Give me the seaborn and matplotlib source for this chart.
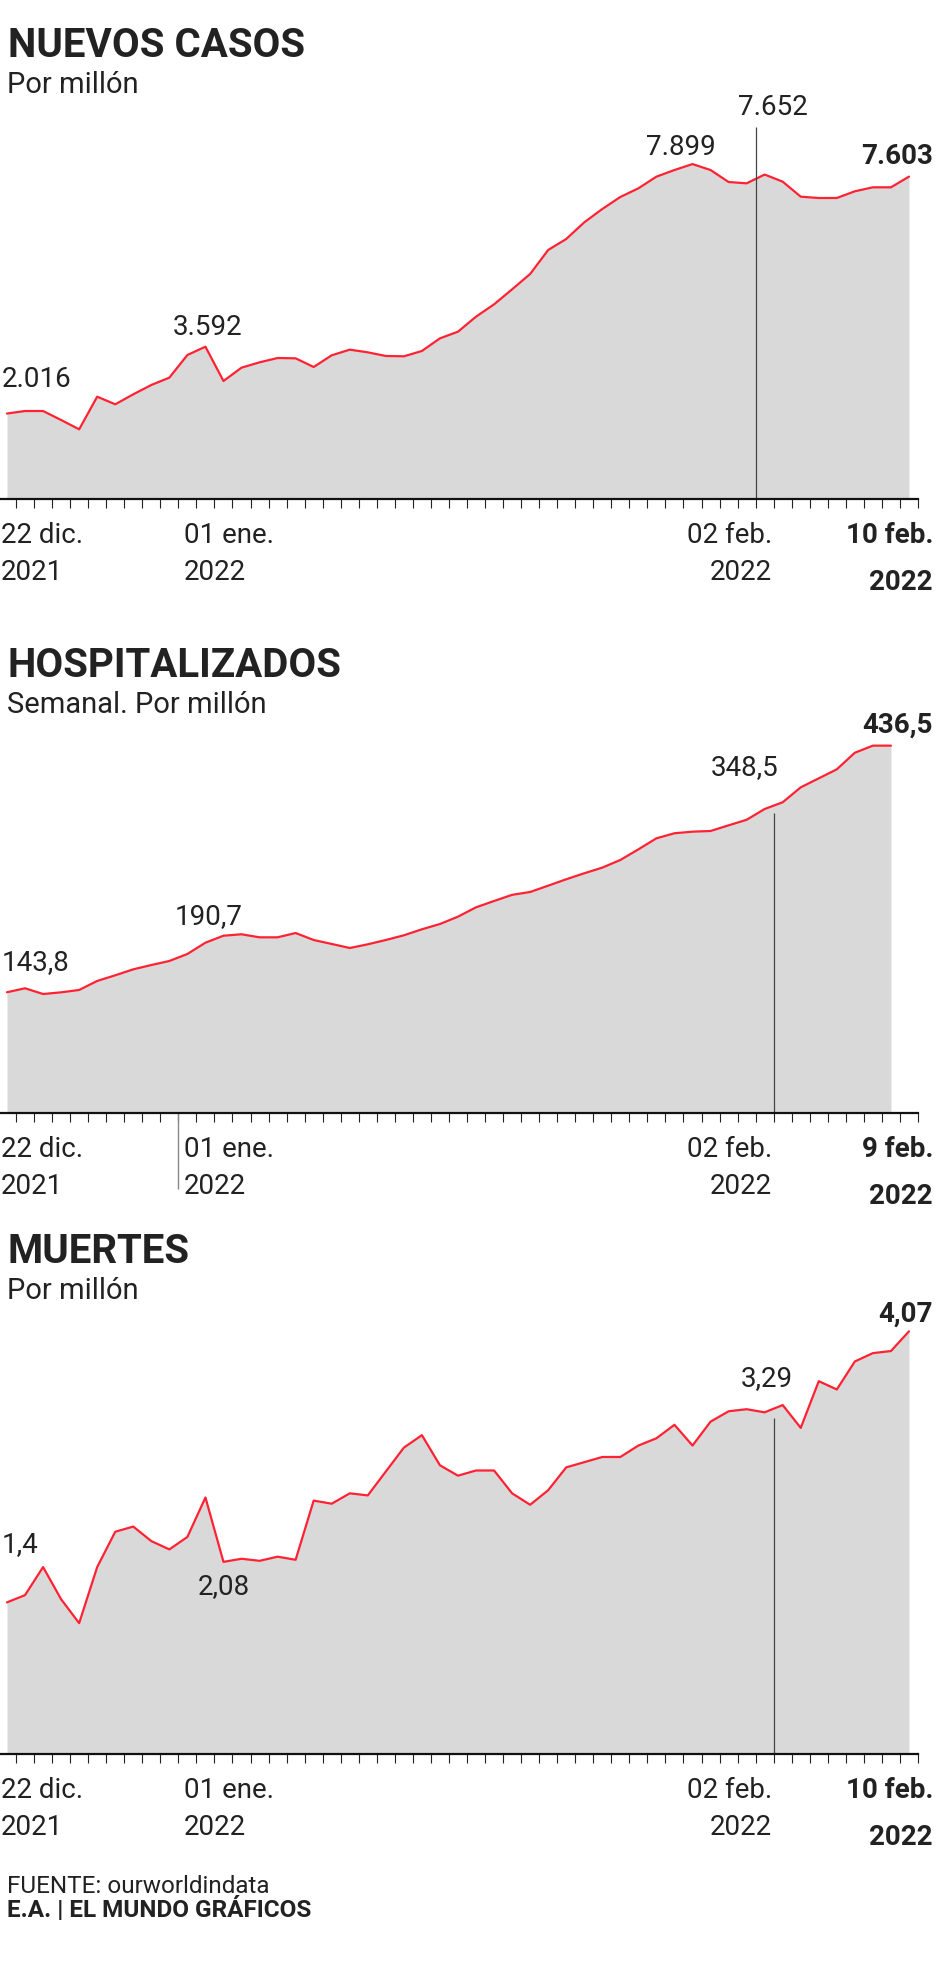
import numpy as np
import pandas as pd
import matplotlib
matplotlib.use("Agg")
import matplotlib.pyplot as plt
import seaborn as sns

# ---------------- data ----------------
casos = [2016, 2075, 2075, 1863, 1643, 2413, 2233, 2469, 2689, 2862,
         3396, 3592, 2783, 3097, 3223, 3325, 3318, 3113, 3389, 3522,
         3459, 3373, 3365, 3491, 3789, 3946, 4300, 4591, 4945, 5307,
         5873, 6132, 6525, 6840, 7123, 7327, 7602, 7759, 7899, 7759,
         7476, 7445, 7652, 7484, 7130, 7099, 7099, 7257, 7351, 7351,
         7603]

hosp = [143.8, 148.5, 141.7, 143.7, 146.5, 157.2, 163.9, 171.0, 176.1, 180.9,
        189.2, 202.6, 210.9, 212.6, 209.0, 209.0, 214.1, 205.8, 201.1, 196.3,
        200.7, 205.8, 211.4, 218.5, 224.8, 233.5, 244.6, 252.1, 259.4, 262.8,
        270.3, 277.9, 285.0, 291.7, 300.8, 313.4, 326.5, 332.5, 334.4, 335.2,
        341.9, 348.5, 361.3, 369.3, 387.0, 397.7, 408.4, 428.1, 436.5, 436.5]

muertes = [1.46, 1.53, 1.80, 1.49, 1.26, 1.80, 2.14, 2.19, 2.05, 1.97,
           2.09, 2.47, 1.85, 1.88, 1.86, 1.90, 1.87, 2.44, 2.41, 2.51,
           2.49, 2.72, 2.95, 3.07, 2.78, 2.68, 2.73, 2.73, 2.51, 2.40,
           2.54, 2.76, 2.81, 2.86, 2.86, 2.97, 3.04, 3.17, 2.97, 3.20,
           3.30, 3.32, 3.29, 3.36, 3.14, 3.59, 3.51, 3.78, 3.86, 3.88,
           4.07]

titles = ["NUEVOS CASOS", "HOSPITALIZADOS", "MUERTES"]
subtitles = ["Por millón", "Semanal. Por millón", "Por millón"]
tick_first = ["22 dic.", "2021"]
tick_second = ["01 ene.", "2022"]
tick_third = ["02 feb.", "2022"]
tick_last = [["10 feb.", "2022"], ["9 feb.", "2022"], ["10 feb.", "2022"]]

# annotations: (index, label, dx_px, dy_px, ha, bold)
ann_casos = [(0, "2.016", -5, 27, "left", False),
             (11, "3.592", 2, 12, "center", False),
             (38, "7.899", -12, 9, "center", False),
             (42, "7.652", 8, 60, "center", False),
             (50, "7.603", 24, 13, "right", True)]
ann_hosp = [(0, "143,8", -5, 22, "left", False),
            (11, "190,7", 3, 19, "center", False),
            (41, "348,5", -2, 45, "center", False),
            (49, "436,5", 42, 13, "right", True)]
ann_muertes = [(0, "1,4", -5, 50, "left", False),
               (12, "2,08", 0, -32, "center", False),
               (42, "3,29", 2, 26, "center", False),
               (50, "4,07", 24, 10, "right", True)]

footer1 = "FUENTE: ourworldindata"
footer2 = "E.A. | EL MUNDO GRÁFICOS"

# ---------------- style ----------------
sns.set_theme(style="white")
plt.rcParams["font.family"] = ["Roboto", "DejaVu Sans"]

W, H = 940, 1966
fig = plt.figure(figsize=(W / 100, H / 100), dpi=100)
TXT = "#222222"
RED = "#ff2233"
FILL = "#d9d9d9"


def fx(x):
    return x / W


def fy(y):
    return 1 - y / H


def make_panel(values, top, bottom, ppu, vline_x, vline_top, annots, title,
               subtitle, title_base, last_labels, extra_vline=None):
    ax = fig.add_axes([0, fy(bottom), 918 / W, (bottom - top) / H])
    n = len(values)
    df = pd.DataFrame({"d": np.arange(n), "v": values})
    ax.fill_between(df["d"], 0, df["v"], color=FILL, lw=0, zorder=1)
    sns.lineplot(data=df, x="d", y="v", ax=ax, color=RED, lw=1.6,
                 zorder=3, clip_on=False)
    ax.set_xlim(-0.388, 50.5)
    ax.set_ylim(0, (bottom - top) / ppu)
    for s in ["top", "left", "right"]:
        ax.spines[s].set_visible(False)
    ax.spines["bottom"].set_color("#111111")
    ax.spines["bottom"].set_linewidth(1.6)
    ax.spines["bottom"].set_zorder(5)
    ax.set_xticks(np.arange(51) + 0.5)
    ax.set_xticklabels([])
    ax.set_yticks([])
    ax.tick_params(axis="x", direction="out", length=6.5, width=0.8,
                   color="#222222", bottom=True)
    ax.set_xlabel("")
    ax.set_ylabel("")
    # vertical reference line
    ax.vlines(vline_x, 0, (bottom - vline_top) / ppu, color="#444444",
              lw=0.9, zorder=4, clip_on=False)
    if extra_vline is not None:
        xv, ybot = extra_vline
        ax.vlines(xv, -(ybot - bottom) / ppu, 0, color="#888888", lw=1.0,
                  zorder=4, clip_on=False)
    for (i, lab, dx, dy, ha, bold) in annots:
        ax.annotate(lab, xy=(i, values[i]), xytext=(dx * 0.72, dy * 0.72),
                    textcoords="offset points", ha=ha, va="baseline",
                    fontsize=20, color=TXT,
                    fontweight="bold" if bold else "normal",
                    annotation_clip=False)
    # titles
    fig.text(fx(8), fy(title_base), title, fontsize=29, fontweight="bold",
             color=TXT, ha="left", va="baseline")
    fig.text(fx(7), fy(title_base + 36), subtitle, fontsize=21, color=TXT,
             ha="left", va="baseline")
    # tick labels
    b1 = bottom + 44
    b2 = bottom + 81
    fig.text(fx(1), fy(b1), tick_first[0], fontsize=20, color=TXT,
             ha="left", va="baseline")
    fig.text(fx(1), fy(b2), tick_first[1], fontsize=20, color=TXT,
             ha="left", va="baseline")
    fig.text(fx(184), fy(b1), tick_second[0], fontsize=20, color=TXT,
             ha="left", va="baseline")
    fig.text(fx(184), fy(b2), tick_second[1], fontsize=20, color=TXT,
             ha="left", va="baseline")
    fig.text(fx(772), fy(b1), tick_third[0], fontsize=20, color=TXT,
             ha="right", va="baseline")
    fig.text(fx(772), fy(b2), tick_third[1], fontsize=20, color=TXT,
             ha="right", va="baseline")
    fig.text(fx(933), fy(b1), last_labels[0], fontsize=20, color=TXT,
             ha="right", va="baseline", fontweight="bold")
    fig.text(fx(933), fy(b2 + 10), last_labels[1], fontsize=20, color=TXT,
             ha="right", va="baseline", fontweight="bold")
    return ax


make_panel(casos, 100, 499, 0.0424, 41.5, 127, ann_casos, titles[0],
           subtitles[0], 57, tick_last[0])
make_panel(hosp, 700, 1113.4, 0.8425, 42.5, 813, ann_hosp, titles[1],
           subtitles[1], 677, tick_last[1], extra_vline=(9.5, 1189))
make_panel(muertes, 1300, 1754, 103.85, 42.5, 1418, ann_muertes, titles[2],
           subtitles[2], 1263, tick_last[2])

fig.text(fx(7), fy(1893), footer1, fontsize=17.5, color=TXT, ha="left",
         va="baseline")
fig.text(fx(7), fy(1917), footer2, fontsize=17.5, color=TXT, ha="left",
         va="baseline", fontweight="bold")

fig.savefig("out.png", dpi=100, facecolor="white")
